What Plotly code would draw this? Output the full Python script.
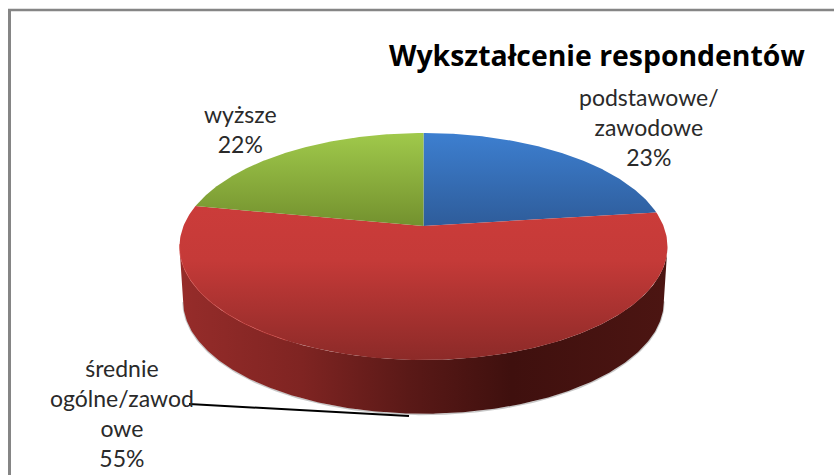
import numpy as np
import plotly.graph_objects as go

categories = ["podstawowe/<br>zawodowe", "średnie<br>ogólne/zawod<br>owe", "wyższe"]
values = [23, 55, 22]
title_text = "Wykształcenie respondentów"

top_gradients = [
    [[0, "#3D7FD0"], [1, "#2E5C9A"]],
    [[0, "#CB3C3A"], [0.35, "#C53A38"], [1, "#8C2A28"]],
    [[0, "#A0C94B"], [1, "#73912E"]],
]
side_gradient = [[0, "#962C2A"], [0.25, "#7F2422"], [0.47, "#5A1917"], [0.68, "#3F100E"], [1, "#4C1512"]]

W, H = 834, 475
CX, CY, A, B, C = 423.5, 226.0, 240.0, -69.0, 0.1806
DEPTH, SHRINK = 55.0, 0.985


def project(theta, scale=1.0, dy=0.0):
    u, v = np.sin(theta), np.cos(theta)
    d = 1 + C * v
    x = CX + scale * A * u / d
    y = CY / d + dy + scale * B * v / d
    return x, y


fracs = np.cumsum([0] + values) / sum(values)
angles = fracs * 2 * np.pi
fig = go.Figure()

# side wall of the middle slice
start, stop = angles[1], angles[2]
theta = np.linspace(start, stop, 400)
xt, yt = project(theta)
i0, i1 = int(np.argmax(xt)), int(np.argmin(xt))
th = theta[i0:i1 + 1]
xa, ya = project(th)
xb, yb = project(th[::-1], SHRINK, DEPTH)

# soft shadow just under the wall
xs, ys = project(th, SHRINK, DEPTH + 0.6)
fig.add_trace(go.Scatter(x=xs, y=ys, mode="lines", line=dict(color="rgba(130,130,130,0.45)", width=1.6)))

fig.add_trace(go.Scatter(
    x=np.r_[xa, xb], y=np.r_[ya, yb], mode="lines", fill="toself", line=dict(width=0),
    fillgradient=dict(type="horizontal", colorscale=side_gradient, start=float(xa.min()), stop=float(xa.max())),
))

# top faces
for k in range(len(values)):
    t = np.linspace(angles[k], angles[k + 1], 200)
    x, y = project(t)
    x = np.r_[CX, x, CX]
    y = np.r_[CY, y, CY]
    fig.add_trace(go.Scatter(
        x=x, y=y, mode="lines", fill="toself", line=dict(width=0),
        fillgradient=dict(type="vertical", colorscale=top_gradients[k], start=float(y.min()), stop=float(y.max())),
    ))

# lighter rim on the left front of the top face
t = np.linspace(angles[1] + 2.2, angles[2] - 0.35, 120)
xr, yr = project(t)
fig.add_trace(go.Scatter(x=xr, y=yr, mode="lines", line=dict(color="rgba(214,72,68,0.6)", width=1)))

font_body = dict(family="Lato, sans-serif", size=23, color="#2a2a2a")
label_pos = [(649, 127), (122, 413), (240, 129)]
annotations = [
    dict(x=px, y=py, xref="x", yref="y", showarrow=False, align="center",
         text=f"{c}<br>{v}%", font=font_body, xanchor="center", yanchor="middle")
    for (px, py), c, v in zip(label_pos, categories, values)
]
annotations.append(dict(
    x=597, y=55, xref="x", yref="y", showarrow=False, text=f"<b>{title_text}</b>",
    font=dict(family="Open Sans, sans-serif", size=28.4, color="#000000"),
    xanchor="center", yanchor="middle",
))

shapes = [
    dict(type="line", xref="x", yref="y", x0=189, y0=404, x1=409, y1=416,
         line=dict(color="#000000", width=2), layer="above"),
    dict(type="line", xref="x", yref="y", x0=9.5, y0=475, x1=9.5, y1=10,
         line=dict(color="#858585", width=3)),
    dict(type="line", xref="x", yref="y", x0=8, y0=10, x1=834, y1=10,
         line=dict(color="#858585", width=2.5)),
]

fig.update_layout(
    width=W, height=H, margin=dict(l=0, r=0, t=0, b=0),
    paper_bgcolor="white", plot_bgcolor="white", showlegend=False, hovermode=False,
    xaxis=dict(range=[0, W], visible=False, fixedrange=True),
    yaxis=dict(range=[H, 0], visible=False, fixedrange=True),
    annotations=annotations, shapes=shapes,
)
fig.write_html("out.html", config=dict(displayModeBar=False),
               post_script="document.body.style.margin='0';document.body.style.overflow='hidden';")
